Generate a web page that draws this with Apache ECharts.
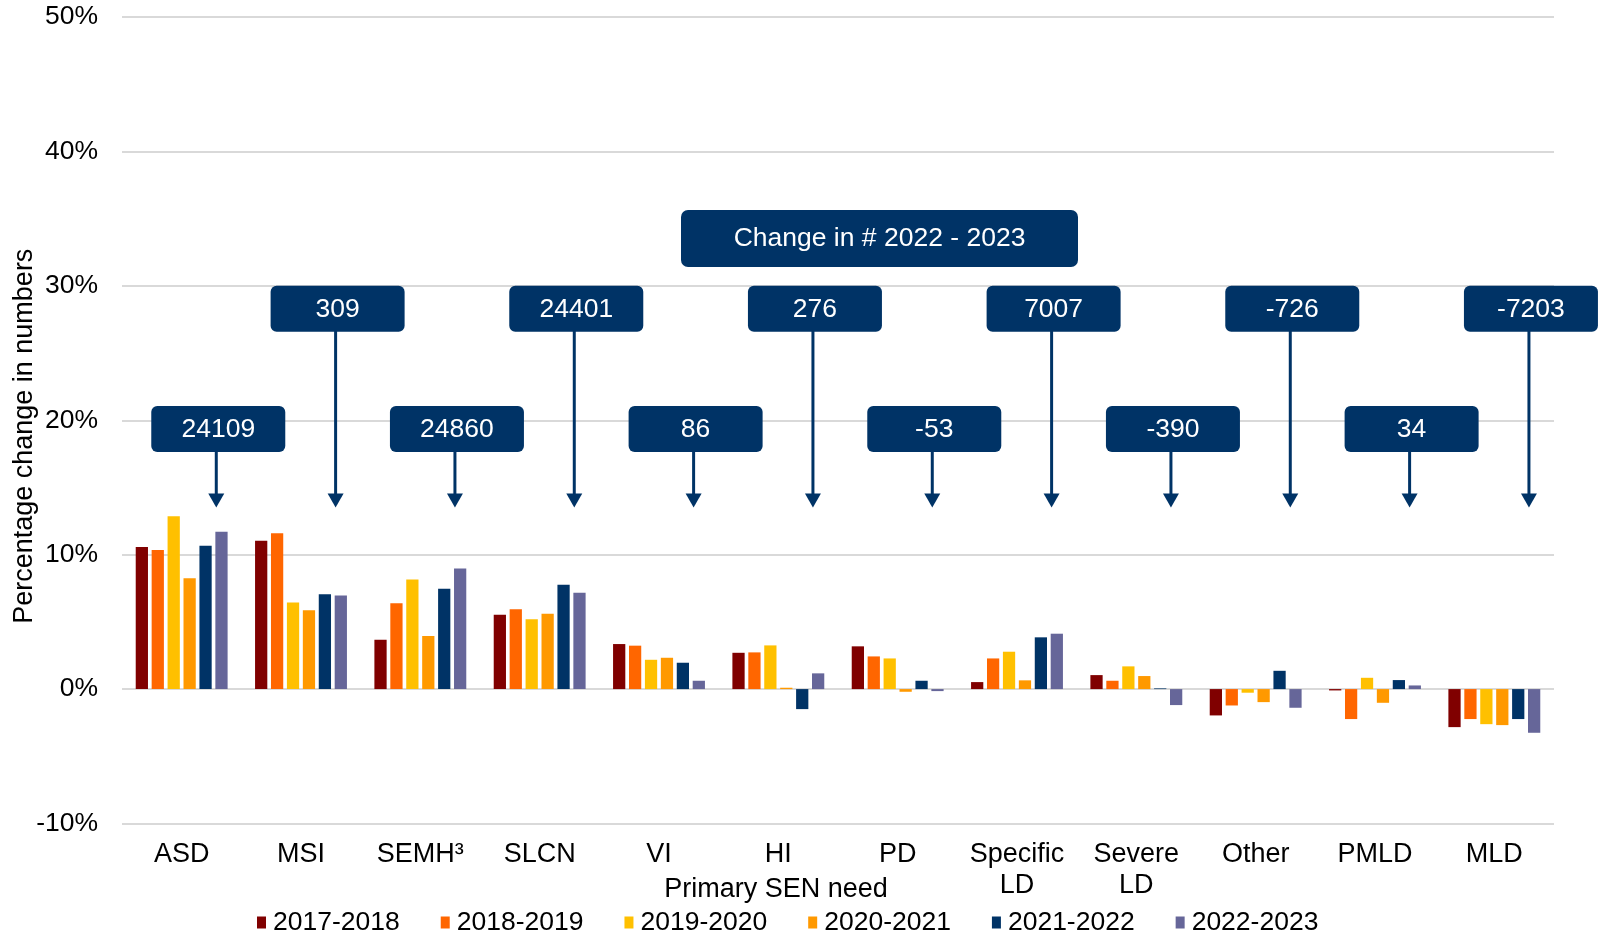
<!DOCTYPE html>
<html>
<head>
<meta charset="utf-8">
<title>Change by primary SEN need</title>
<script src="https://cdn.jsdelivr.net/npm/echarts@6/dist/echarts.min.js"></script>
<style>
  html, body { margin: 0; padding: 0; background: #fff; }
  #chart { width: 1600px; height: 934px; }
</style>
</head>
<body>
<div id="chart"></div>
<script>
// --- DATA ---
const categories = ['ASD', 'MSI', 'SEMH³', 'SLCN', 'VI', 'HI', 'PD', 'Specific\nLD', 'Severe\nLD', 'Other', 'PMLD', 'MLD'];
const years = ['2017-2018', '2018-2019', '2019-2020', '2020-2021', '2021-2022', '2022-2023'];

const change2017 = [10.57, 11.04, 3.67, 5.53, 3.35, 2.70, 3.18, 0.52, 1.04, -1.96, -0.10, -2.83];
const change2018 = [10.35, 11.59, 6.38, 5.93, 3.23, 2.73, 2.43, 2.28, 0.62, -1.22, -2.23, -2.23];
const change2019 = [12.85, 6.45, 8.16, 5.19, 2.18, 3.25, 2.28, 2.78, 1.69, -0.27, 0.84, -2.61];
const change2020 = [8.24, 5.86, 3.95, 5.61, 2.33, 0.10, -0.20, 0.65, 0.97, -0.97, -1.02, -2.68];
const change2021 = [10.67, 7.05, 7.47, 7.77, 1.96, -1.49, 0.62, 3.85, 0.05, 1.36, 0.67, -2.23];
const change2022 = [11.71, 6.97, 8.98, 7.17, 0.62, 1.17, -0.15, 4.12, -1.19, -1.39, 0.27, -3.25];

// change in numbers 2022 - 2023, one callout per category
const numberChange = ['24109', '309', '24860', '24401', '86', '276', '-53', '7007', '-390', '-726', '34', '-7203'];

const yTicks = { min: -10, max: 50, interval: 10 };

// --- STYLE ---
const FONT = '"Liberation Sans", Arial, sans-serif';
const NAVY = '#003366';
const colors = ['#800000', '#FF6600', '#FFC000', '#FF9900', '#003366', '#666699'];
const seriesData = [change2017, change2018, change2019, change2020, change2021, change2022];

// callout placement (in axis units)
const LOW_LEVEL = 19.35;
const HIGH_LEVEL = 28.3;
const TIP_LEVEL = 13.5;
const SHIFT = 0.29; // fraction of the band right of the category centre
const BOX_W = 134, BOX_H = 46, HEAD_W = 16, HEAD_H = 14;

const chart = echarts.init(document.getElementById('chart'));

function renderCallout(params, api) {
    const i = api.value(0);
    const band = api.size([1, 0])[0];
    const x = api.coord([i, 0])[0] + band * SHIFT;
    const yc = api.coord([i, i % 2 ? HIGH_LEVEL : LOW_LEVEL])[1];
    const yTip = api.coord([i, TIP_LEVEL])[1];
    return {
        type: 'group',
        children: [
            {
                type: 'line',
                shape: { x1: x, y1: yc, x2: x, y2: yTip - HEAD_H + 1 },
                style: { stroke: NAVY, lineWidth: 3 }
            },
            {
                type: 'polygon',
                shape: { points: [[x - HEAD_W / 2, yTip - HEAD_H], [x + HEAD_W / 2, yTip - HEAD_H], [x, yTip]] },
                style: { fill: NAVY }
            },
            {
                type: 'rect',
                shape: { x: x - BOX_W / 2 + 2, y: yc - BOX_H / 2, width: BOX_W, height: BOX_H, r: 6 },
                style: { fill: NAVY }
            },
            {
                type: 'text',
                style: {
                    x: x + 2, y: yc + 1, text: numberChange[i], fill: '#fff',
                    font: '26.5px ' + FONT, textAlign: 'center', textVerticalAlign: 'middle'
                }
            }
        ]
    };
}

const barSeries = years.map((y, idx) => ({
    name: y,
    type: 'bar',
    data: seriesData[idx],
    barGap: '30%',
    barCategoryGap: '23%',
    itemStyle: { color: colors[idx] },
    emphasis: { disabled: true }
}));

chart.setOption({
    animation: false,
    backgroundColor: '#fff',
    textStyle: { fontFamily: FONT },
    grid: { left: 122, right: 46, top: 17, bottom: 110.5, containLabel: false, outerBoundsMode: 'none' },
    legend: {
        data: years,
        left: 252,
        top: 904,
        icon: 'rect',
        itemWidth: 9,
        itemHeight: 12,
        itemGap: 41,
        itemStyle: { borderWidth: 0 },
        textStyle: { fontSize: 26.5, color: '#000', fontFamily: FONT, padding: [0, 0, 0, 2] }
    },
    xAxis: {
        type: 'category',
        data: categories,
        axisLine: { show: false, onZero: false },
        axisTick: { show: false },
        axisLabel: { color: '#000', fontSize: 27, lineHeight: 31, margin: 16, interval: 0, fontFamily: FONT },
        name: 'Primary SEN need',
        nameLocation: 'middle',
        nameGap: 53,
        nameMoveOverlap: false,
        nameTextStyle: { color: '#000', fontSize: 27, fontFamily: FONT, padding: [0, 124, 0, 0] }
    },
    yAxis: {
        type: 'value',
        min: yTicks.min,
        max: yTicks.max,
        interval: yTicks.interval,
        axisLine: { show: false },
        axisTick: { show: false },
        axisLabel: { color: '#000', fontSize: 26.5, margin: 24, formatter: v => v + '%', fontFamily: FONT },
        splitLine: { lineStyle: { color: '#d9d9d9', width: 2 } },
        name: 'Percentage change in numbers',
        nameLocation: 'middle',
        nameGap: 84,
        nameMoveOverlap: false,
        nameTextStyle: { color: '#000', fontSize: 27, fontFamily: FONT, padding: [0, 32, 0, 0] }
    },
    series: [
        ...barSeries,
        {
            type: 'custom',
            name: 'callouts',
            data: numberChange.map((_, i) => [i, 0]),
            renderItem: renderCallout,
            clip: false,
            z: 5,
            silent: true
        }
    ],
    graphic: [{
        type: 'group',
        left: 681,
        top: 210,
        children: [
            { type: 'rect', shape: { x: 0, y: 0, width: 397, height: 57, r: 7 }, style: { fill: NAVY } },
            {
                type: 'text',
                style: {
                    x: 198.5, y: 29, text: 'Change in # 2022 - 2023', fill: '#fff',
                    font: '26.5px ' + FONT, textAlign: 'center', textVerticalAlign: 'middle'
                }
            }
        ]
    }]
});
</script>
</body>
</html>
